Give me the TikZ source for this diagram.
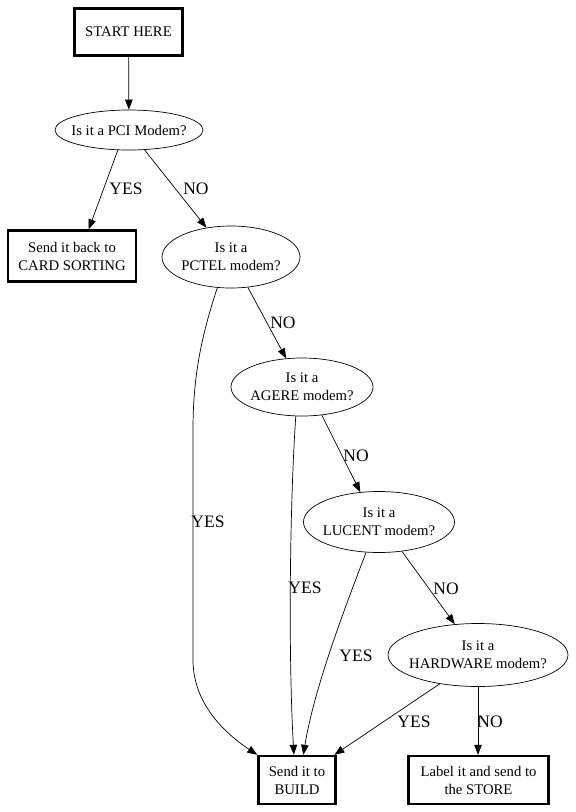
\documentclass[tikz,border=0pt]{standalone}
\usepackage{fontspec}
\setmainfont{Liberation Serif}
\usepackage{tikz}
\usetikzlibrary{arrows.meta, positioning, shapes.geometric}

\begin{document}
\begin{tikzpicture}[x=1pt, y=-1pt,
    stepbox/.style={draw, line width=2.4pt, rectangle, inner sep=0pt, align=center,
      font=\fontsize{14.7}{18}\selectfont},
    query/.style={draw, line width=0.7pt, ellipse, inner xsep=-16pt, inner ysep=-6pt,
      align=center, font=\fontsize{14.7}{18}\selectfont},
    flow/.style={line width=0.7pt, -{Triangle[length=10pt, width=7.5pt]}},
    answer/.style={font=\fontsize{17.5}{20}\selectfont, inner sep=0pt}]
  \useasboundingbox (0,0) rectangle (576,812);
  \node[stepbox, minimum width=108pt, minimum height=47pt] (start) at (128.5,32) {START HERE};
  \node[query, minimum width=148pt, minimum height=40pt] (pci) at (129,130) {Is it a PCI Modem?};
  \node[stepbox, minimum width=128pt, minimum height=51pt] (card) at (72,256) {Send it back to\\CARD SORTING};
  \node[query, minimum width=138pt, minimum height=62pt] (pctel) at (231,257) {Is it a\\PCTEL modem?};
  \node[query, minimum width=142pt, minimum height=58pt] (agere) at (302,387) {Is it a\\AGERE modem?};
  \node[query, minimum width=151pt, minimum height=61pt] (lucent) at (379,522) {Is it a\\LUCENT modem?};
  \node[query, minimum width=180pt, minimum height=63pt] (hw) at (478,655) {Is it a\\HARDWARE modem?};
  \node[stepbox, minimum width=77pt, minimum height=48pt] (build) at (297,780) {Send it to\\BUILD};
  \node[stepbox, minimum width=140pt, minimum height=48pt] (store) at (478.5,780) {Label it and send to\\the STORE};
  \node[answer] (pciyes) at (126,189) {YES};
  \node[answer] (pcino) at (196,189) {NO};
  \node[answer] (pctelno) at (283,323) {NO};
  \node[answer] (pctelyes) at (208,522) {YES};
  \node[answer] (agereno) at (356,456) {NO};
  \node[answer] (agereyes) at (305,588) {YES};
  \node[answer] (lucentyes) at (356,656) {YES};
  \node[answer] (lucentno) at (446,589) {NO};
  \node[answer] (hwyes) at (414,722) {YES};
  \node[answer] (hwno) at (490,722) {NO};
  \draw[flow] (start) -- (pci);
  \draw[flow] (pci.241) -- (card.58);
  \draw[flow] (pci.308) -- (pctel.130);
  \draw[flow] (pctel.-61) -- (agere.119);
  \draw[flow] (pctel.-114) .. controls (200,340) and (193,380) .. (193,430)
    -- (193,660) .. controls (193,700) and (220,730) .. (build.north west);
  \draw[flow] (agere.-55) -- (lucent.122);
  \draw[flow] (agere.-102) .. controls (290,500) and (288,650) .. (build.97);
  \draw[flow] (lucent.-113) .. controls (342,615) and (314,690) .. (build.76);
  \draw[flow] (lucent.-52) -- (hw.127);
  \draw[flow] (hw.-143) -- (build.34);
  \draw[flow] (hw.south) -- (hw.south |- store.north);
\end{tikzpicture}
\end{document}
